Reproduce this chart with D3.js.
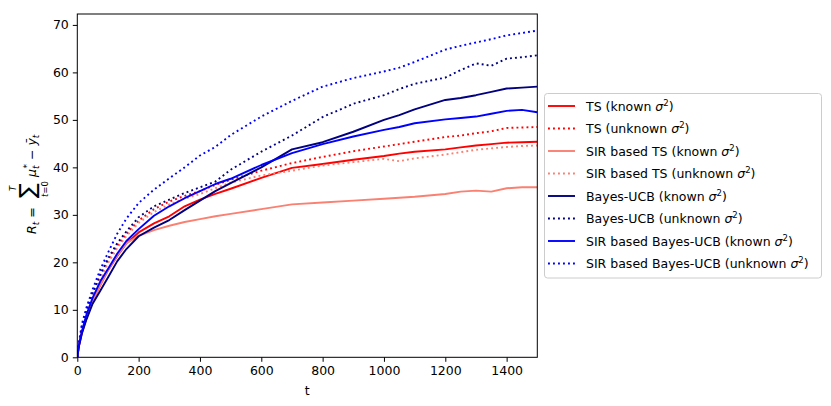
<!DOCTYPE html>
<html>
<head>
<script src="https://d3js.org/d3.v7.min.js"></script>
<style>
    body { margin: 0; background: #fff; }
    svg text { font-family: "DejaVu Sans", sans-serif; fill: #000; }
</style>
</head>
<body>
<div id="chart"></div>
<script>
    var tSteps = [0, 5, 15, 30, 50, 75, 100, 130, 160, 200, 250, 300, 350, 400, 450, 500, 600, 700, 800, 900, 1000, 1050, 1100, 1200, 1250, 1300, 1350, 1400, 1450, 1500];

    var tsKnown        = [0, 2.3, 5.2, 8.3, 11.8, 15.2, 18.3, 21.3, 24.0, 26.3, 28.2, 29.7, 31.8, 33.2, 34.4, 35.5, 37.8, 39.9, 40.7, 41.6, 42.4, 42.9, 43.3, 43.8, 44.2, 44.6, 44.9, 45.2, 45.3, 45.4];
    var tsUnknown      = [0, 2.6, 6.0, 9.3, 13.0, 17.0, 20.3, 23.5, 26.0, 28.8, 31.2, 32.8, 34.0, 35.0, 36.3, 37.4, 39.3, 40.9, 42.2, 43.4, 44.4, 44.9, 45.4, 46.4, 46.7, 47.2, 47.6, 48.3, 48.4, 48.5];
    var sirTsKnown     = [0, 2.3, 5.2, 8.3, 11.8, 15.2, 18.3, 21.4, 24.0, 25.6, 26.8, 27.7, 28.5, 29.1, 29.7, 30.2, 31.2, 32.2, 32.6, 33.0, 33.4, 33.6, 33.8, 34.4, 34.9, 35.1, 34.9, 35.6, 35.8, 35.8];
    var sirTsUnknown   = [0, 2.5, 5.8, 9.0, 12.6, 16.5, 19.8, 23.0, 25.5, 28.3, 30.6, 32.2, 33.4, 34.4, 35.6, 36.8, 38.3, 39.3, 40.4, 41.1, 41.8, 41.3, 41.9, 42.7, 43.2, 43.7, 44.0, 44.3, 44.5, 44.6];
    var bucbKnown      = [0, 2.2, 5.0, 8.0, 11.3, 14.0, 16.8, 20.2, 22.8, 25.5, 27.3, 28.9, 31.0, 33.0, 35.0, 36.7, 40.0, 43.8, 45.3, 47.5, 50.0, 51.0, 52.2, 54.2, 54.6, 55.2, 55.9, 56.6, 56.8, 57.0];
    var bucbUnknown    = [0, 2.8, 6.5, 10.0, 13.6, 17.5, 20.8, 24.0, 26.5, 29.5, 31.8, 33.2, 34.6, 35.8, 37.0, 39.5, 43.3, 46.7, 50.6, 53.4, 55.2, 56.5, 57.6, 58.9, 60.5, 61.9, 61.4, 62.9, 63.2, 63.6];
    var sirBucbKnown   = [0, 2.5, 5.5, 9.0, 12.5, 16.0, 18.6, 21.8, 24.5, 27.0, 29.8, 31.8, 33.5, 35.0, 36.5, 37.6, 40.5, 43.0, 44.9, 46.5, 47.9, 48.5, 49.3, 50.1, 50.4, 50.7, 51.3, 51.9, 52.1, 51.6];
    var sirBucbUnknown = [0, 3.0, 7.0, 10.5, 14.3, 18.5, 22.0, 26.0, 29.2, 32.5, 35.3, 37.7, 40.0, 42.5, 44.3, 46.8, 50.7, 54.0, 57.0, 58.8, 60.2, 61.0, 62.2, 64.8, 65.6, 66.3, 67.0, 67.8, 68.3, 68.8];

    var labels = ["TS (known ", "TS (unknown ", "SIR based TS (known ", "SIR based TS (unknown ",
                  "Bayes-UCB (known ", "Bayes-UCB (unknown ", "SIR based Bayes-UCB (known ", "SIR based Bayes-UCB (unknown "];
    var xTicks = [0, 200, 400, 600, 800, 1000, 1200, 1400];
    var yTicks = [0, 10, 20, 30, 40, 50, 60, 70];

    var series = [
        { name: labels[0], values: tsKnown,        color: "red",    dotted: false },
        { name: labels[1], values: tsUnknown,      color: "red",    dotted: true },
        { name: labels[2], values: sirTsKnown,     color: "salmon", dotted: false },
        { name: labels[3], values: sirTsUnknown,   color: "salmon", dotted: true },
        { name: labels[4], values: bucbKnown,      color: "navy",   dotted: false },
        { name: labels[5], values: bucbUnknown,    color: "navy",   dotted: true },
        { name: labels[6], values: sirBucbKnown,   color: "blue",   dotted: false },
        { name: labels[7], values: sirBucbUnknown, color: "blue",   dotted: true }
    ];

    var W = 831, H = 406;
    var mL = 77.3, mR = 537.3, mT = 14, mB = 357.3;

    var svg = d3.select("#chart").append("svg")
        .attr("width", W).attr("height", H);

    var x = d3.scaleLinear().domain([0, 1500]).range([mL, mR]);
    var y = d3.scaleLinear().domain([0, 72.3]).range([mB, mT]);

    var line = d3.line()
        .x(function(d) { return x(d[0]); })
        .y(function(d) { return y(d[1]); });

    svg.append("clipPath").attr("id", "plot-clip")
        .append("rect").attr("x", mL).attr("y", mT)
        .attr("width", mR - mL).attr("height", mB - mT);

    var plot = svg.append("g").attr("clip-path", "url(#plot-clip)");
    series.forEach(function(s) {
        plot.append("path")
            .datum(tSteps.map(function(t, i) { return [t, s.values[i]]; }))
            .attr("d", line)
            .attr("fill", "none")
            .attr("stroke", s.color)
            .attr("stroke-width", 1.9)
            .attr("stroke-linejoin", "round")
            .attr("stroke-dasharray", s.dotted ? "1.9,3.1" : null);
    });

    // axes
    var xAxis = d3.axisBottom(x).tickValues(xTicks).tickFormat(d3.format("d")).tickSize(4.5).tickPadding(4);
    var yAxis = d3.axisLeft(y).tickValues(yTicks).tickFormat(d3.format("d")).tickSize(4.5).tickPadding(4);
    var gx = svg.append("g").attr("transform", "translate(0," + mB + ")").call(xAxis);
    var gy = svg.append("g").attr("transform", "translate(" + mL + ",0)").call(yAxis);
    [gx, gy].forEach(function(g) {
        g.select(".domain").remove();
        g.selectAll("text").attr("font-size", 12.5).attr("font-family", "DejaVu Sans").attr("fill", "#000");
        g.selectAll("line").attr("stroke", "#000").attr("stroke-width", 1);
    });

    svg.append("rect")
        .attr("x", mL).attr("y", mT)
        .attr("width", mR - mL).attr("height", mB - mT)
        .attr("fill", "none").attr("stroke", "#000").attr("stroke-width", 1);

    // x label
    svg.append("text").attr("x", (mL + mR) / 2).attr("y", 395)
        .attr("text-anchor", "middle").attr("font-size", 12.5).text("t");

    // y label: R_t = sum_{t=0}^{T} mu_t^* - ybar_t
    var yl = svg.append("g").attr("transform", "translate(36,234) rotate(-90)");
    var fs = 12.5;
    var t1 = yl.append("text").attr("x", 0).attr("y", 0).attr("font-size", fs);
    t1.append("tspan").attr("font-style", "italic").text("R");
    t1.append("tspan").attr("font-style", "italic").attr("font-size", 9).attr("dy", 3).text("t");
    t1.append("tspan").attr("dy", -3).text(" = ");
    yl.append("text").attr("x", 36).attr("y", -1).attr("font-size", 22).text("\u2211");
    yl.append("text").attr("x", 43).attr("y", -20).attr("font-size", 8.5).attr("font-style", "italic").text("T");
    var lo = yl.append("text").attr("x", 37).attr("y", 12).attr("font-size", 8.5);
    lo.append("tspan").attr("font-style", "italic").text("t");
    lo.append("tspan").text("=0");
    var t2 = yl.append("text").attr("x", 57).attr("y", 0).attr("font-size", fs);
    t2.append("tspan").attr("font-style", "italic").text("\u03bc");
    t2.append("tspan").attr("font-style", "italic").attr("font-size", 9).attr("dy", 3).text("t");
    t2.append("tspan").attr("font-size", 9).attr("dx", -3).attr("dy", -9).text("*");
    t2.append("tspan").attr("dy", 6).text(" \u2212 ");
    t2.append("tspan").attr("font-style", "italic").text("\u0233");
    t2.append("tspan").attr("font-style", "italic").attr("font-size", 9).attr("dy", 3).text("t");

    // legend
    var lg = svg.append("g");
    lg.append("rect")
        .attr("x", 544.5).attr("y", 93.5).attr("width", 277).attr("height", 184.5)
        .attr("rx", 3).attr("fill", "#fff").attr("fill-opacity", 0.8)
        .attr("stroke", "#ccc").attr("stroke-width", 1);
    series.forEach(function(s, i) {
        var yy = 106 + i * 22.5;
        lg.append("line")
            .attr("x1", 548).attr("x2", 575).attr("y1", yy).attr("y2", yy)
            .attr("stroke", s.color).attr("stroke-width", 1.9)
            .attr("stroke-dasharray", s.dotted ? "1.9,3.1" : null);
        var tx = lg.append("text").attr("x", 586).attr("y", yy + 4.5).attr("font-size", 12.5);
        tx.append("tspan").text(s.name);
        tx.append("tspan").attr("font-style", "italic").text("\u03c3");
        tx.append("tspan").attr("font-size", 8.5).attr("dy", -5).text("2");
        tx.append("tspan").attr("dy", 5).text(")");
    });
</script>
</body>
</html>
